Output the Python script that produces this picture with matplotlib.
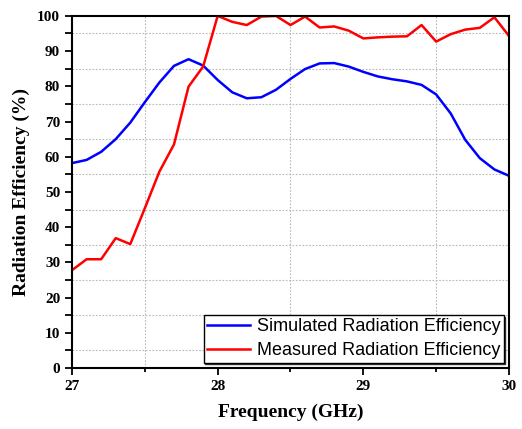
import matplotlib
matplotlib.use("Agg")
import matplotlib.pyplot as plt
import numpy as np
from matplotlib.ticker import MultipleLocator

freq = np.round(np.arange(27.0, 30.01, 0.1), 1)

simulated = [58.2, 59.1, 61.4, 65.0, 69.7, 75.5, 81.1, 85.8, 87.7, 85.9,
             81.8, 78.3, 76.6, 76.9, 79.0, 82.1, 84.9, 86.5, 86.6, 85.6,
             84.1, 82.8, 82.0, 81.4, 80.4, 77.7, 72.3, 64.8, 59.6, 56.4, 54.6]
measured = [27.8, 30.9, 30.9, 36.9, 35.2, 45.4, 55.8, 63.5, 79.9, 85.6,
            100.0, 98.3, 97.4, 99.8, 100.0, 97.4, 99.8, 96.7, 97.0, 95.8,
            93.6, 93.9, 94.1, 94.2, 97.4, 92.7, 94.8, 96.1, 96.6, 99.6, 94.3]

labels = ["Simulated Radiation Efficiency", "Measured Radiation Efficiency"]

serif = ["Liberation Serif", "DejaVu Serif"]

fig = plt.figure(figsize=(5.22, 4.29), dpi=100)
ax = fig.add_axes([0.138, 0.142, 0.837, 0.821])

ax.plot(freq, simulated, color="#0000ff", lw=1.8, label=labels[0])
ax.plot(freq, measured, color="#ff0000", lw=1.8, label=labels[1])

ax.set_xlim(27, 30)
ax.set_ylim(0, 100)
ax.xaxis.set_major_locator(MultipleLocator(1))
ax.xaxis.set_minor_locator(MultipleLocator(0.5))
ax.yaxis.set_major_locator(MultipleLocator(10))
ax.yaxis.set_minor_locator(MultipleLocator(5))

ax.grid(which="minor", color="#b8b8b8", linestyle=(0, (1.5, 1.5)), linewidth=0.8)
ax.grid(which="major", visible=False)

ax.tick_params(axis="x", which="major", direction="out", length=5, width=1.3)
ax.tick_params(axis="x", which="minor", direction="out", length=3, width=1.3)
ax.tick_params(axis="y", which="both", direction="out", length=5, width=1.3)
ax.tick_params(axis="both", which="both", top=False, right=False)

for s in ax.spines.values():
    s.set_linewidth(1.5)

for lab in ax.get_xticklabels() + ax.get_yticklabels():
    lab.set_fontfamily(serif)
    lab.set_fontweight("bold")
    lab.set_fontsize(11)

ax.set_xlabel("Frequency (GHz)", fontfamily=serif, fontweight="bold", fontsize=14, labelpad=8)
ax.set_ylabel("Radiation Efficiency (%)", fontfamily=serif, fontweight="bold", fontsize=14, labelpad=5)

leg = ax.legend(loc="lower right", fancybox=False, framealpha=1, edgecolor="black",
                prop={"family": ["Liberation Sans", "DejaVu Sans"], "size": 13},
                handlelength=2.4, borderpad=0.18, labelspacing=0.4, handletextpad=0.35,
                borderaxespad=0.3, shadow={"ox": 1.2, "oy": -1.2, "color": "#333333", "alpha": 1})
leg.get_frame().set_linewidth(1.0)

fig.savefig("out.png", dpi=100)
